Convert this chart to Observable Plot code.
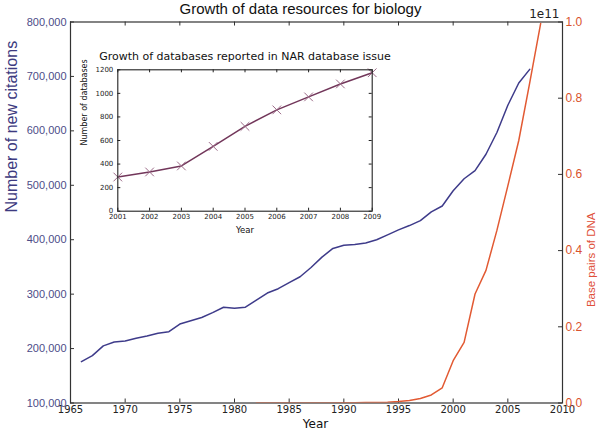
<!DOCTYPE html>
<html><head><meta charset="utf-8">
<script src="https://cdn.jsdelivr.net/npm/d3@7"></script>
<script src="https://cdn.jsdelivr.net/npm/@observablehq/plot@0.6"></script>
<style>
html,body{margin:0;padding:0;background:#fff;}
#chart{position:relative;width:600px;height:430px;overflow:hidden;}
#chart svg{position:absolute;left:0;top:0;}
</style></head><body><div id="chart"></div>
<script>
// ---- Data ----
const citeYears = [1966,1967,1968,1969,1970,1971,1972,1973,1974,1975,1976,1977,1978,1979,1980,1981,1982,1983,1984,1985,1986,1987,1988,1989,1990,1991,1992,1993,1994,1995,1996,1997,1998,1999,2000,2001,2002,2003,2004,2005,2006,2007];
const citeValues = [176000,187000,205000,212000,214000,219000,223000,228000,231000,245000,251000,257000,266000,276000,274000,276000,289000,302000,310000,321000,332000,349000,368000,384000,390000,391000,394000,400000,409000,418000,426000,435000,451000,462000,490000,512000,527000,557000,597000,647000,688000,713000];
const bpYears = [1982,1983,1984,1985,1986,1987,1988,1989,1990,1991,1992,1993,1994,1995,1996,1997,1998,1999,2000,2001,2002,2003,2004,2005,2006,2007,2008];
const bpValues = [0.00001,0.00002,0.00004,0.00005,0.0001,0.00015,0.0002,0.0003,0.0005,0.0007,0.001,0.0016,0.0022,0.0038,0.0065,0.0116,0.021,0.040,0.111,0.159,0.286,0.348,0.453,0.57,0.689,0.84,0.996]; // units of 1e11
const ndbYears = [2001,2002,2003,2004,2005,2006,2007,2008,2009];
const ndbCounts = [290,333,384,550,720,860,970,1080,1175];

const xTicks = [1965,1970,1975,1980,1985,1990,1995,2000,2005,2010];
const yTicks = [100000,200000,300000,400000,500000,600000,700000,800000];
const rTicks = [0,0.2,0.4,0.6,0.8,1.0];
const ndbYTicks = [0,200,400,600,800,1000,1200];

const titleMain = "Growth of data resources for biology";
const titleInset = "Growth of databases reported in NAR database issue";
const labelLeft = "Number of new citations";
const labelRight = "Base pairs of DNA";
const labelX = "Year";
const labelInsetY = "Number of databases";
const offsetText = "1e11";

// ---- Layout ----
const W = 600, H = 430;
const M = {top: 21.5, right: 38, bottom: 27.5, left: 70};
const plotW = W - M.left - M.right, plotH = H - M.top - M.bottom;
const IM = {top: 69.3, right: 228.3, bottom: 219.3, left: 117.3};
const inW = W - IM.left - IM.right, inH = H - IM.top - IM.bottom;
const sans = "'Liberation Sans', Arial, Helvetica, sans-serif";
const dejavu = "'DejaVu Sans', sans-serif";
const frameColor = "#333";
const blue = "#3e3b8a", blueText = "#4d4c88", red = "#e25a33", redText = "#d9532e";
const fmtComma = d3.format(",");
const fmtInt = d => String(d);
const fmt1 = d3.format(".1f");

const main = Plot.plot({
  width: W, height: H,
  marginTop: M.top, marginRight: M.right, marginBottom: M.bottom, marginLeft: M.left,
  x: {domain: [1965, 2010]},
  y: {domain: [100000, 800000]},
  style: {background: "white", overflow: "visible"},
  marks: [
    Plot.axisX(xTicks, {tickSize: 0, tickPadding: 3, tickFormat: fmtInt, fontFamily: dejavu, fontSize: 10, color: "#222", label: null}),
    Plot.tickX(xTicks, {x: d => d, insetTop: plotH - 4, stroke: frameColor}),
    Plot.tickX(xTicks, {x: d => d, insetBottom: plotH - 4, stroke: frameColor}),
    Plot.axisY(yTicks, {anchor: "left", tickSize: 0, tickPadding: 4, tickFormat: fmtComma, fontFamily: sans, fontSize: 11, color: blueText, label: null}),
    Plot.tickY(yTicks, {y: d => d, insetRight: plotW - 4, stroke: frameColor}),
    Plot.line(citeValues, {x: (d, i) => citeYears[i], y: d => d, stroke: blue, strokeWidth: 1.5}),
    Plot.frame({stroke: frameColor, strokeWidth: 1.2}),
    Plot.text([titleMain], {text: d => d, frameAnchor: "top", dx: -16, dy: -8.5, lineAnchor: "bottom", fontFamily: sans, fontSize: 15, fill: "#111"}),
    Plot.text([labelX], {text: d => d, frameAnchor: "bottom", dx: -1, dy: 24.5, lineAnchor: "bottom", fontFamily: dejavu, fontSize: 12, fill: "#111"}),
    Plot.text([labelLeft], {text: d => d, frameAnchor: "left", dx: -59, rotate: -90, lineAnchor: "middle", fontFamily: sans, fontSize: 16, fill: "#3d3a80"})
  ]
});

const right = Plot.plot({
  width: W, height: H,
  marginTop: M.top, marginRight: M.right, marginBottom: M.bottom, marginLeft: M.left,
  x: {domain: [1965, 2010], axis: null},
  y: {domain: [0, 1]},
  style: {background: "transparent", overflow: "visible"},
  marks: [
    Plot.axisY(rTicks, {anchor: "right", tickSize: 0, tickPadding: 3, tickFormat: fmt1, fontFamily: sans, fontSize: 12, color: redText, label: null}),
    Plot.tickY(rTicks, {y: d => d, insetLeft: plotW - 4, stroke: frameColor}),
    Plot.line(bpValues, {x: (d, i) => bpYears[i], y: d => d, stroke: red, strokeWidth: 1.5, clip: true}),
    Plot.text([offsetText], {text: d => d, frameAnchor: "top-right", dx: -3, dy: -4.5, textAnchor: "end", lineAnchor: "bottom", fontFamily: dejavu, fontSize: 12, fill: "#222"}),
    Plot.text([labelRight], {text: d => d, frameAnchor: "right", dx: 29, rotate: -90, lineAnchor: "middle", fontFamily: sans, fontSize: 11.5, fill: "#e0503a"})
  ]
});

const inset = Plot.plot({
  width: W, height: H,
  marginTop: IM.top, marginRight: IM.right, marginBottom: IM.bottom, marginLeft: IM.left,
  x: {domain: [2001, 2009]},
  y: {domain: [0, 1200]},
  style: {background: "transparent", overflow: "visible"},
  marks: [
    Plot.axisX(ndbYears, {tickSize: 0, tickPadding: 3, tickFormat: fmtInt, fontFamily: dejavu, fontSize: 7, color: "#222", label: null}),
    Plot.tickX(ndbYears, {x: d => d, insetTop: inH - 3, stroke: "#222"}),
    Plot.tickX(ndbYears, {x: d => d, insetBottom: inH - 3, stroke: "#222"}),
    Plot.axisY(ndbYTicks, {anchor: "left", tickSize: 0, tickPadding: 4.5, tickFormat: fmtInt, fontFamily: dejavu, fontSize: 7, color: "#222", label: null}),
    Plot.tickY(ndbYTicks, {y: d => d, insetRight: inW - 3, stroke: "#222"}),
    Plot.tickY(ndbYTicks, {y: d => d, insetLeft: inW - 3, stroke: "#222"}),
    Plot.line(ndbCounts, {x: (d, i) => ndbYears[i], y: d => d, stroke: "#72365a", strokeWidth: 1.5}),
    Plot.dot(ndbCounts, {x: (d, i) => ndbYears[i], y: d => d, symbol: "times", r: 4, stroke: "#9c6b88", strokeWidth: 1}),
    Plot.frame({stroke: "#222", strokeWidth: 1.1}),
    Plot.text([titleInset], {text: d => d, frameAnchor: "top", dy: -13.3, lineAnchor: "middle", fontFamily: dejavu, fontSize: 11, fill: "#111"}),
    Plot.text([labelInsetY], {text: d => d, frameAnchor: "left", dx: -33.3, dy: 5, rotate: -90, lineAnchor: "middle", fontFamily: dejavu, fontSize: 8, fill: "#111"}),
    Plot.text([labelX], {text: d => d, frameAnchor: "bottom", dy: 18.6, lineAnchor: "middle", fontFamily: dejavu, fontSize: 8.5, fill: "#111"})
  ]
});

const el = document.getElementById("chart");
el.append(main, right, inset);
</script></body></html>
